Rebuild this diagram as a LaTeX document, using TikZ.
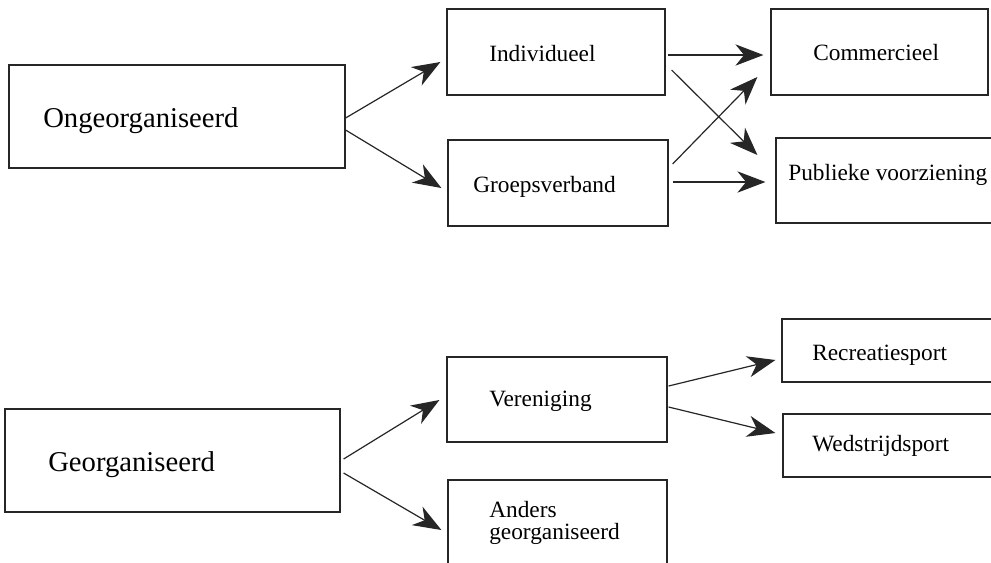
\documentclass[tikz,border=0pt]{standalone}
\usepackage{fontspec}
\setmainfont{Liberation Serif}
\usetikzlibrary{arrows.meta,fit,calc}
\tikzset{
  box/.style={draw=black!85, line width=0.9pt, rectangle, inner sep=0pt},
  bigtxt/.style={anchor=base west, inner sep=0pt, font=\fontsize{21.5}{24}\selectfont},
  smalltxt/.style={anchor=base west, inner sep=0pt, font=\fontsize{17.5}{16}\selectfont},
  arr/.style={draw=black!85, line width=0.9pt, -{Stealth[length=21pt,width=16pt,inset=6.5pt]}}
}
\begin{document}
\begin{tikzpicture}[x=0.75pt,y=-0.75pt]
\useasboundingbox (0,0) rectangle (991,562);
\clip (0,0) rectangle (991,562);
\fill[white] (0,0) rectangle (991,562);
% boxes
\node[box, fit={(9,65) (345,168)}] (onge) {};
\node[box, fit={(447,9) (665,95)}] (indiv) {};
\node[box, fit={(448,140) (668,226)}] (groeps) {};
\node[box, fit={(771,9) (988,95)}] (comm) {};
\node[box, fit={(776,138) (1000,223)}] (publ) {};
\node[box, fit={(5,409) (340,512)}] (geo) {};
\node[box, fit={(447,357) (667,442)}] (veren) {};
\node[box, fit={(448,480) (667,580)}] (anders) {};
\node[box, fit={(782,319) (1000,382)}] (recr) {};
\node[box, fit={(783,414) (1000,477)}] (wedst) {};
% texts
\node[bigtxt] (tonge) at (43,127) {Ongeorganiseerd};
\node[smalltxt] (tindiv) at (489,61) {Individueel};
\node[smalltxt] (tgroeps) at (473,192) {Groepsverband};
\node[smalltxt] (tcomm) at (813,60) {Commercieel};
\node[smalltxt] (tpubl) at (788,180) {Publieke voorziening};
\node[bigtxt] (tgeo) at (48,471) {Georganiseerd};
\node[smalltxt] (tveren) at (489,406) {Vereniging};
\node[smalltxt, align=left] (tanders) at (489,539) {Anders\\georganiseerd};
\node[smalltxt] (trecr) at (812,360) {Recreatiesport};
\node[smalltxt] (twedst) at (812,451) {Wedstrijdsport};
% arrows
\draw[arr] ($(onge.east)+(0,1.5)$) -- ($(indiv.west)+(-6,10)$);
\draw[arr] ($(onge.east)+(0,13.5)$) -- ($(groeps.west)+(-6,5)$);
\draw[arr] ($(indiv.east)+(2,3)$) -- ($(comm.west)+(-7,3)$);
\draw[arr] ($(indiv.east)+(6,18)$) -- ($(publ.west)+(-18,-25.5)$);
\draw[arr] ($(groeps.east)+(4,-19)$) -- ($(comm.west)+(-13,25)$);
\draw[arr] ($(groeps.east)+(4,-1)$) -- ($(publ.west)+(-10,1.5)$);
\draw[arr] ($(geo.east)+(3,-1.5)$) -- ($(veren.west)+(-7,0.5)$);
\draw[arr] ($(geo.east)+(3,12.5)$) -- ($(anders.west)+(-6,0)$);
\draw[arr] ($(veren.east)+(1,-13.5)$) -- ($(recr.west)+(-6,9.5)$);
\draw[arr] ($(veren.east)+(1,7.5)$) -- ($(wedst.west)+(-7,-12.5)$);
\end{tikzpicture}
\end{document}
